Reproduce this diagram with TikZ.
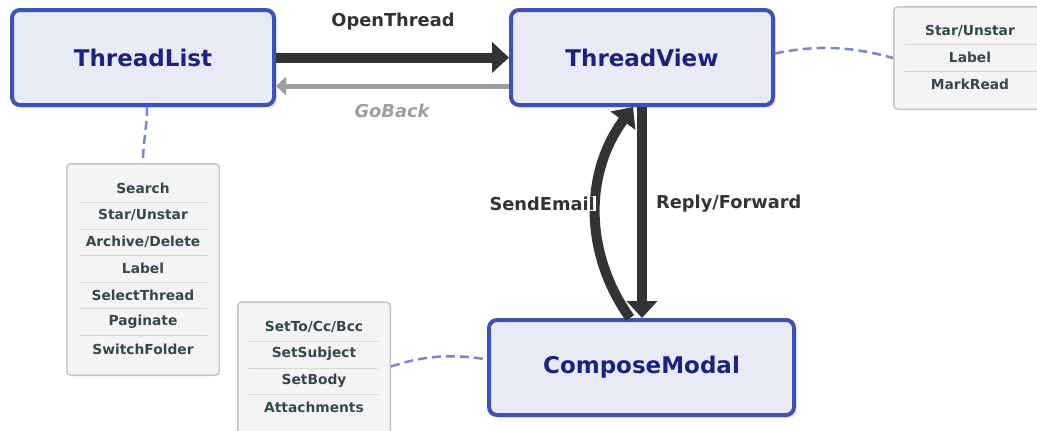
\documentclass[tikz,border=0pt]{standalone}
\usepackage{fontspec}
\setmainfont{DejaVu Sans}
\usetikzlibrary{arrows.meta,shadows}
\definecolor{nodefill}{HTML}{E8EAF6}
\definecolor{nodeborder}{HTML}{3F51B5}
\definecolor{nodetext}{HTML}{1A237E}
\definecolor{edgedark}{HTML}{333333}
\definecolor{edgegrey}{HTML}{9E9E9E}
\definecolor{notefill}{HTML}{F4F4F4}
\definecolor{noteborder}{HTML}{C4C4C4}
\definecolor{notetext}{HTML}{37474F}
\definecolor{notesep}{HTML}{D9D9D9}
\definecolor{dashblue}{HTML}{7986CB}
\begin{document}
\begin{tikzpicture}[x=1pt,y=-1pt,
  state/.style={draw=nodeborder, line width=4pt, fill=nodefill, rounded corners=8pt,
    text=nodetext, font=\bfseries\fontsize{23}{27}\selectfont, inner sep=0pt,
    minimum width=262pt, minimum height=95pt,
    drop shadow={shadow xshift=3pt,shadow yshift=-3pt,fill=black!10,opacity=1}},
  note/.style={draw=noteborder, line width=1.5pt, fill=notefill, rounded corners=4pt, inner sep=0pt},
  item/.style={text=notetext, font=\bfseries\fontsize{13.8}{16}\selectfont, inner sep=0pt},
  sep/.style={draw=notesep, line width=1pt},
  dark/.style={draw=edgedark, line width=10pt},
  darktip/.style={-{Triangle[length=17pt,width=30pt]}},
  grey/.style={draw=edgegrey, line width=5pt, -{Triangle[length=10pt,width=18pt]}},
  elabel/.style={text=edgedark, font=\bfseries\fontsize{17.8}{20}\selectfont, inner sep=1pt},
  dashc/.style={draw=dashblue, line width=2.5pt, dash pattern=on 9pt off 5pt}
]
\useasboundingbox (0,0) rectangle (1037,431);
\clip (0,0) rectangle (1037,431);

% notes
\node[note, minimum width=152.5pt, minimum height=211.5pt] (N1) at (143,269.5) {};
\node[note, minimum width=155.5pt, minimum height=102.5pt] (N2) at (971.5,58) {};
\node[note, minimum width=152.5pt, minimum height=143pt] (N3) at (314,373.5) {};

% note 1 items
\node[item] (n1a) at (143,188) {Search};
\node[item] (n1b) at (143,215) {Star/Unstar};
\node[item] (n1c) at (143,242) {Archive/Delete};
\node[item] (n1d) at (143,268) {Label};
\node[item] (n1e) at (143,295) {SelectThread};
\node[item] (n1f) at (143,322) {Paginate};
\node[item] (n1g) at (143,349) {SwitchFolder};
\foreach \yy in {202,229,255.5,282,308.5,335.5} \draw[sep] (79,\yy) -- (207,\yy);

% note 2 items
\node[item] (n2a) at (970,31) {Star/Unstar};
\node[item] (n2b) at (970,57.5) {Label};
\node[item] (n2c) at (970,84) {MarkRead};
\foreach \yy in {44.5,71} \draw[sep] (905,\yy) -- (1037,\yy);

% note 3 items
\node[item] (n3a) at (314,327.5) {SetTo/Cc/Bcc};
\node[item] (n3b) at (314,354) {SetSubject};
\node[item] (n3c) at (314,381) {SetBody};
\node[item] (n3d) at (314,407.5) {Attachments};
\foreach \yy in {341,368,394.5} \draw[sep] (249,\yy) -- (378,\yy);

% states
\node[state] (TL) at (143,57.5) {ThreadList};
\node[state] (TV) at (642,57.5) {ThreadView};
\node[state, minimum width=305pt] (CM) at (641.5,367.5) {ComposeModal};

% dashed note links
\draw[dashc] ([xshift=4pt]TL.south) .. controls +(0,22) and +(0,-22) .. (N1.north);
\draw[dashc] ([yshift=4pt]TV.east) .. controls (815,45) and (850,46) .. (N2.west);
\draw[dashc] ([yshift=7pt]N3.east) .. controls (425,355) and (455,354) .. ([yshift=8pt]CM.west);

% edges
\coordinate (gb) at (0,86);
\draw[dark, darktip] (TL.east) -- (TV.west);
\node[elabel] (lOT) at (393,22) {OpenThread};
\draw[grey] (TV.west |- gb) -- (TL.east |- gb);
\node[elabel, text=edgegrey, font=\bfseries\itshape\fontsize{17.8}{20}\selectfont] (lGB) at (392,111) {GoBack};

\coordinate (se1) at (630,0);
\coordinate (se2) at (633,0);
\draw[dark, darktip] (TV.south) -- (CM.north -| TV.south);
\draw[dark, darktip] (CM.north -| se1) .. controls (585,255) and (583,175) .. (TV.south -| se2);
\node[elabel, fill=white, anchor=east] (lSE) at (596,203.5) {SendEmail};
\node[elabel, anchor=west] (lRF) at (655,203.5) {Reply/Forward};
\end{tikzpicture}
\end{document}
